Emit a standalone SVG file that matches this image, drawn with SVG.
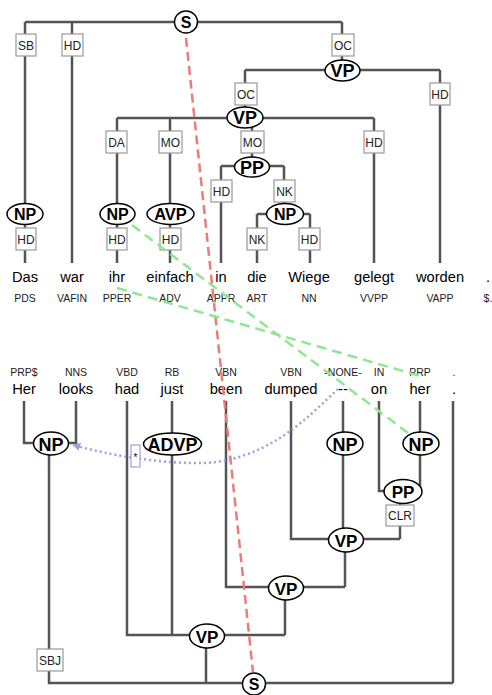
<svg xmlns="http://www.w3.org/2000/svg" width="492" height="695" viewBox="0 0 492 695">
<style>
text{font-family:"Liberation Sans",Arial,sans-serif;text-anchor:middle;fill:#000}
.e{fill:none;stroke:#555;stroke-width:2.5}
.box{fill:#fff;stroke:#999;stroke-width:1.2}
.bl{font-size:12px;fill:#222}
.nd{fill:#fff;stroke:#000;stroke-width:1.5}
.nl{font-weight:bold}
.w{font-size:14.7px}
.p{font-size:10.5px;fill:#222}
.red{fill:none;stroke:#ee7a7a;stroke-width:2.5;stroke-dasharray:9 5}
.grn{fill:none;stroke:#8fe88f;stroke-width:2.5;stroke-dasharray:10 6}
.pur{fill:none;stroke:#9f9fe0;stroke-width:2.5;stroke-dasharray:2 3}
</style>
<defs>
<marker id="arr" viewBox="0 0 10 10" refX="9" refY="5" markerWidth="8" markerHeight="8" markerUnits="userSpaceOnUse" orient="auto">
<path d="M0 0 L10 5 L0 10 Z" fill="#9f9fe0"/>
</marker>
</defs>
<g id="connectors">
<path class="e" d="M25 22 H342 M25 22 V204 M72 22 V263 M342 22 V60 M245 70 H440 M245 70 V107 M440 70 V263 M117 118 H374 M117 118 V204 M170 118 V204 M252 118 V157 M374 118 V263 M221 166 H284 M221 166 V263 M284 166 V204 M257 214 H310 M257 214 V263 M310 214 V263 M25 214 V263 M117 214 V263 M170 214 V263"/>
<path class="e" d="M24 401 V443 H76 V401 M49 443 V683 H453 M127 401 V635 H285 M172 401 V635 M226 401 V587 H345 M291 401 V539 H400 M343 401 V539 M379 401 V491 H420 V401 M400 491 V539 M345 540 V587 M285 588 V635 M206 636 V683 M453 401 V683"/>
<g id="edge-labels">
<rect class="box" x="16" y="34" width="20" height="22"/><text class="bl" x="26" y="49.5">SB</text>
<rect class="box" x="62" y="34" width="21" height="22"/><text class="bl" x="72.5" y="49.5">HD</text>
<rect class="box" x="332" y="34" width="22" height="22"/><text class="bl" x="343" y="49.5">OC</text>
<rect class="box" x="235" y="83" width="22" height="22"/><text class="bl" x="246" y="98.5">OC</text>
<rect class="box" x="430" y="83" width="20" height="22"/><text class="bl" x="440" y="98.5">HD</text>
<rect class="box" x="106" y="131" width="21" height="22"/><text class="bl" x="116.5" y="146.5">DA</text>
<rect class="box" x="159" y="131" width="23" height="22"/><text class="bl" x="170.5" y="146.5">MO</text>
<rect class="box" x="241" y="131" width="23" height="22"/><text class="bl" x="252.5" y="146.5">MO</text>
<rect class="box" x="364" y="131" width="20" height="22"/><text class="bl" x="374" y="146.5">HD</text>
<rect class="box" x="211" y="180" width="21" height="22"/><text class="bl" x="221.5" y="195.5">HD</text>
<rect class="box" x="274" y="180" width="21" height="22"/><text class="bl" x="284.5" y="195.5">NK</text>
<rect class="box" x="16" y="228" width="20" height="22"/><text class="bl" x="26" y="243.5">HD</text>
<rect class="box" x="107" y="228" width="20" height="22"/><text class="bl" x="117" y="243.5">HD</text>
<rect class="box" x="160" y="228" width="21" height="22"/><text class="bl" x="170.5" y="243.5">HD</text>
<rect class="box" x="247" y="228" width="20" height="22"/><text class="bl" x="257" y="243.5">NK</text>
<rect class="box" x="299" y="228" width="21" height="22"/><text class="bl" x="309.5" y="243.5">HD</text>
<rect class="box" x="386" y="505" width="28" height="21"/><text class="bl" x="400" y="520">CLR</text>
<rect class="box" x="37" y="649" width="26" height="22"/><text class="bl" x="50" y="664.5">SBJ</text>
</g>
</g>
<g id="n-S1"><ellipse class="nd" cx="186" cy="22" rx="11.5" ry="11"/><text class="nl" x="186" y="28" font-size="16">S</text></g>
<g id="n-VP1"><ellipse class="nd" cx="342.5" cy="70.5" rx="17.5" ry="10.5"/><text class="nl" x="342.5" y="77" font-size="18">VP</text></g>
<g id="n-VP2"><ellipse class="nd" cx="245" cy="117.5" rx="18" ry="10.5"/><text class="nl" x="245" y="124" font-size="18">VP</text></g>
<g id="n-PP1"><ellipse class="nd" cx="252" cy="167" rx="17.5" ry="10"/><text class="nl" x="252" y="173.5" font-size="18">PP</text></g>
<g id="n-NP1"><ellipse class="nd" cx="25" cy="214" rx="18" ry="10.5"/><text class="nl" x="25" y="220" font-size="16">NP</text></g>
<g id="n-NP2"><ellipse class="nd" cx="117.5" cy="214" rx="17.5" ry="10.5"/><text class="nl" x="117.5" y="220" font-size="16">NP</text></g>
<g id="n-AVP"><ellipse class="nd" cx="170.5" cy="214" rx="23.5" ry="10.5"/><text class="nl" x="170.5" y="220" font-size="16.5">AVP</text></g>
<g id="n-NP3"><ellipse class="nd" cx="285" cy="214" rx="18.5" ry="10.5"/><text class="nl" x="285" y="220" font-size="16">NP</text></g>
<g id="top-words">
<g id="t1"><text class="w" x="25" y="282">Das</text><text class="p" x="25" y="302">PDS</text></g>
<g id="t2"><text class="w" x="72" y="282">war</text><text class="p" x="72" y="302">VAFIN</text></g>
<g id="t3"><text class="w" x="117" y="282">ihr</text><text class="p" x="117" y="302">PPER</text></g>
<g id="t4"><text class="w" x="170" y="282">einfach</text><text class="p" x="170" y="302">ADV</text></g>
<g id="t5"><text class="w" x="221" y="282">in</text><text class="p" x="221" y="302">APPR</text></g>
<g id="t6"><text class="w" x="257" y="282">die</text><text class="p" x="257" y="302">ART</text></g>
<g id="t7"><text class="w" x="309" y="282">Wiege</text><text class="p" x="309" y="302">NN</text></g>
<g id="t8"><text class="w" x="374" y="282">gelegt</text><text class="p" x="374" y="302">VVPP</text></g>
<g id="t9"><text class="w" x="440" y="282">worden</text><text class="p" x="440" y="302">VAPP</text></g>
<g id="t10"><text class="w" x="488" y="282">.</text><text class="p" x="488" y="302">$.</text></g>
</g>
<g id="bottom-words">
<g id="b1"><text class="p" x="24" y="376">PRP$</text><text class="w" x="24" y="394">Her</text></g>
<g id="b2"><text class="p" x="76" y="376">NNS</text><text class="w" x="76" y="394">looks</text></g>
<g id="b3"><text class="p" x="127" y="376">VBD</text><text class="w" x="127" y="394">had</text></g>
<g id="b4"><text class="p" x="172" y="376">RB</text><text class="w" x="172" y="394">just</text></g>
<g id="b5"><text class="p" x="226" y="376">VBN</text><text class="w" x="226" y="394">been</text></g>
<g id="b6"><text class="p" x="291" y="376">VBN</text><text class="w" x="291" y="394">dumped</text></g>
<g id="b7"><text class="p" x="343" y="376">-NONE-</text><text class="w" x="343" y="394">--</text></g>
<g id="b8"><text class="p" x="379" y="376">IN</text><text class="w" x="379" y="394">on</text></g>
<g id="b9"><text class="p" x="420" y="376">PRP</text><text class="w" x="420" y="394">her</text></g>
<g id="b10"><text class="p" x="454" y="376">.</text><text class="w" x="454" y="394">.</text></g>
</g>
<g id="n-bNP1"><ellipse class="nd" cx="51" cy="443.5" rx="17.5" ry="11.5"/><text class="nl" x="51" y="450.5" font-size="18">NP</text></g>
<g id="n-ADVP"><ellipse class="nd" cx="172.5" cy="444" rx="29" ry="11"/><text class="nl" x="172.5" y="451" font-size="18">ADVP</text></g>
<g id="n-bNP2"><ellipse class="nd" cx="345" cy="443.5" rx="18" ry="11.5"/><text class="nl" x="345" y="450.5" font-size="18">NP</text></g>
<g id="n-bNP3"><ellipse class="nd" cx="421" cy="443.5" rx="18" ry="11.5"/><text class="nl" x="421" y="450.5" font-size="18">NP</text></g>
<g id="n-bPP"><ellipse class="nd" cx="403" cy="491.5" rx="19" ry="12"/><text class="nl" x="403" y="498" font-size="17">PP</text></g>
<g id="n-bVP1"><ellipse class="nd" cx="346" cy="540" rx="17.5" ry="12"/><text class="nl" x="346" y="546.5" font-size="17">VP</text></g>
<g id="n-bVP2"><ellipse class="nd" cx="286" cy="588" rx="17.5" ry="12"/><text class="nl" x="286" y="594.5" font-size="17">VP</text></g>
<g id="n-bVP3"><ellipse class="nd" cx="207" cy="636" rx="17.5" ry="12"/><text class="nl" x="207" y="642.5" font-size="17">VP</text></g>
<g id="n-bS"><ellipse class="nd" cx="254" cy="684" rx="11.5" ry="11"/><text class="nl" x="254" y="690" font-size="16">S</text></g>
<g id="alignments">
<path class="red" d="M186 38 L253 672"/>
<path class="grn" d="M132 225 L408 433"/>
<path class="grn" d="M117 288 L420 376"/>
<path class="pur" d="M338 389 C305 420 262 466 190 463 C150 462 110 455 73 445" marker-end="url(#arr)"/>
<g id="trace"><rect x="131" y="445" width="9" height="22" fill="#fff" stroke="#9f9fe0" stroke-width="1.2"/><text x="135.5" y="461" font-size="10">*</text></g>
</g>
</svg>
